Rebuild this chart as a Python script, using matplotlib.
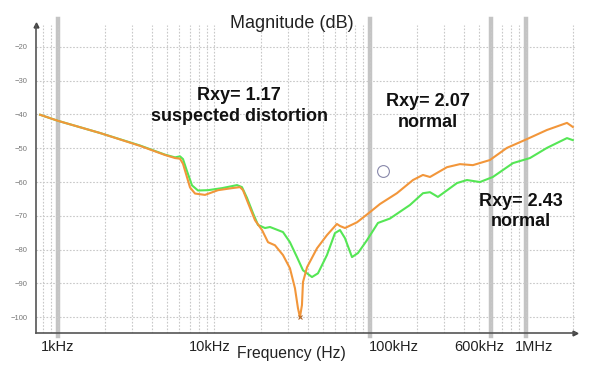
import numpy as np
import matplotlib.pyplot as plt
from matplotlib.ticker import LogLocator, NullFormatter

plt.rcParams['font.family'] = ['Liberation Sans', 'DejaVu Sans']

# orange trace (Rxy = 1.17 case, with the deep notch)
orange_f = [767, 1000, 1860, 3357, 4853, 5623, 6053, 6325, 6712, 7017, 7555,
            8750, 10620, 13040, 14680, 15340, 16530, 18320, 20320, 22200, 24590,
            27690, 30680, 33040, 34540, 35560, 36640, 37200, 39490, 45750, 53000,
            61400, 64230, 69140, 82630, 100000, 115900, 148900, 188800, 218600,
            242700, 311900, 377500, 457000, 587000, 755500, 1015000, 1364000,
            1834000, 2000000]
orange_db = [-40.1, -41.9, -45.5, -49.3, -52.0, -52.9, -53.1, -54.6, -58.6, -61.6, -63.4,
             -63.8, -62.4, -61.8, -61.5, -62.4, -66.2, -71.3, -74.2, -77.8, -78.7,
             -81.6, -85.5, -91.4, -97.3, -100.0, -96.4, -89.6, -85.2, -79.6, -75.7,
             -72.4, -73.0, -73.6, -71.9, -68.9, -66.5, -63.3, -59.4, -57.9,
             -58.5, -55.6, -54.7, -55.0, -53.5, -49.9, -47.3, -44.6,
             -42.5, -43.7]

# green trace
green_f = [767, 1000, 1860, 3357, 4853, 5623, 6053, 6325, 6712, 7230, 7894,
           9153, 11260, 14040, 15110, 16280, 17780, 19150, 21240, 22860, 27690,
           30680, 34040, 37200, 42480, 46420, 53000, 59650, 64230, 69140, 76700,
           83800, 95710, 112500, 134300, 180400, 218800, 242700, 272800, 361500,
           419000, 507000, 614000, 826000, 1062000, 1364000, 1834000, 2000000]
green_db = [-40.1, -41.9, -45.5, -49.2, -51.9, -52.7, -52.4, -53.2, -56.8, -61.0, -62.5,
            -62.4, -61.8, -60.9, -61.5, -64.7, -69.2, -72.7, -73.6, -73.3, -74.8,
            -77.8, -82.2, -86.1, -88.1, -87.0, -81.6, -75.1, -74.2, -76.6, -82.2,
            -81.0, -77.2, -72.1, -70.8, -66.8, -63.3, -63.0, -64.4, -60.3,
            -59.4, -60.0, -58.5, -54.4, -52.9, -49.9, -47.0, -47.6]

marker_lines = [1e3, 1e5, 6e5, 1e6]
tick_labels = ['1kHz', '10kHz', '100kHz', '600kHz', '1MHz']
tick_label_pos = [1000, 9400, 142000, 500000, 1120000]
y_ticks = [-20, -30, -40, -50, -60, -70, -80, -90, -100]

fig = plt.figure(figsize=(5.92, 3.71), dpi=100)
ax = fig.add_axes([0.061, 0.102, 0.910, 0.831])

ax.set_xscale('log')
ax.set_xlim(723, 2.06e6)
ax.set_ylim(-104.7, -13.5)

# dotted grid, every decade subdivision on x
ax.xaxis.set_major_locator(LogLocator(base=10, numticks=10))
ax.xaxis.set_minor_locator(LogLocator(base=10, subs=np.arange(2, 10), numticks=100))
ax.xaxis.set_major_formatter(NullFormatter())
ax.xaxis.set_minor_formatter(NullFormatter())
ax.set_yticks(y_ticks)
ax.grid(True, which='both', axis='x', color='#c8c8c8', linestyle=(0, (1.5, 1.5)), linewidth=0.8)
ax.grid(True, which='major', axis='y', color='#c8c8c8', linestyle=(0, (1.5, 1.5)), linewidth=0.8)
ax.tick_params(axis='x', which='both', length=0)
ax.tick_params(axis='y', length=0, labelsize=5.5, labelcolor='#777777', pad=6)

# thick grey markers
for f in marker_lines:
    ax.plot([f, f], [-0.01, 1.02], transform=ax.get_xaxis_transform(),
            color='#c4c4c4', linewidth=3.2, clip_on=False, zorder=1)

ax.plot(green_f, green_db, color='#55e655', linewidth=1.5, zorder=3)
ax.plot(orange_f, orange_db, color='#f2963a', linewidth=1.5, zorder=4)
ax.plot([35560], [-100.0], marker='x', color='#b06a30', markersize=3.5, mew=0.8, zorder=5)
ax.plot([121000], [-56.7], marker='o', markersize=8.5, mfc='white', mec='#8888aa', mew=0.8, zorder=5)

# spines with arrows
for s in ['top', 'right']:
    ax.spines[s].set_visible(False)
ax.spines['left'].set_color('#555555')
ax.spines['bottom'].set_color('#555555')
ax.spines['left'].set_linewidth(1.2)
ax.spines['bottom'].set_linewidth(1.2)
ax.plot(1, 0, '>', color='#444444', markersize=3.5, transform=ax.transAxes, clip_on=False)
ax.plot(0, 1, '^', color='#444444', markersize=3.5, transform=ax.transAxes, clip_on=False)

# x labels
for lab, pos in zip(tick_labels, tick_label_pos):
    ax.text(pos, -0.045, lab, transform=ax.get_xaxis_transform(),
            ha='center', va='center', fontsize=10.5, color='#222222')

fig.text(0.493, 0.047, 'Frequency (Hz)', ha='center', va='center', fontsize=11.3, color='#222222')
fig.text(0.493, 0.938, 'Magnitude (dB)', ha='center', va='center', fontsize=13, color='#222222')

ax.text(14500, -37.4, 'Rxy= 1.17\nsuspected distortion', ha='center', va='center',
        fontsize=13, fontweight='bold', linespacing=1.3, color='#111111')
ax.text(236000, -39.2, 'Rxy= 2.07\nnormal', ha='center', va='center',
        fontsize=13, fontweight='bold', linespacing=1.3, color='#111111')
ax.text(930000, -68.7, 'Rxy= 2.43\nnormal', ha='center', va='center',
        fontsize=13, fontweight='bold', linespacing=1.3, color='#111111')

fig.savefig('out.png', dpi=100)
